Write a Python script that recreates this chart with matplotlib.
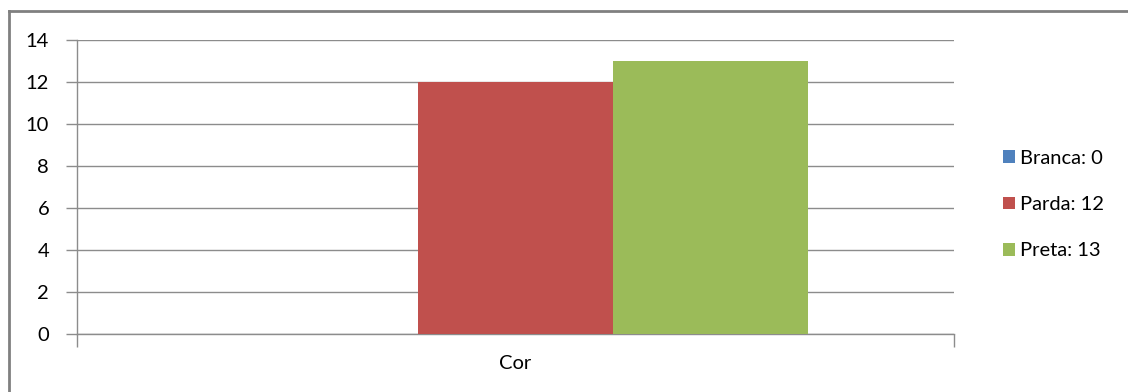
import matplotlib.pyplot as plt
from matplotlib.lines import Line2D

# data
category = ["Cor"]
series_names = ["Branca", "Parda", "Preta"]
series_values = [0, 12, 13]
series_colors = ["#4F81BD", "#C0504D", "#9BBB59"]

plt.rcParams['font.family'] = ['Lato', 'DejaVu Sans']

fig = plt.figure(figsize=(11.28, 3.92), dpi=100)
ax = fig.add_axes([77 / 1128, 58 / 392, 877 / 1128, 294 / 392])

# three bars grouped around the single category
width = 0.222
offsets = [-width, 0, width]
for name, val, col, off in zip(series_names, series_values, series_colors, offsets):
    ax.bar(off, val, width=width, color=col, label=f"{name}: {val}", zorder=3)

ax.set_xlim(-0.5, 0.5)
ax.set_ylim(0, 14)
ax.set_yticks(range(0, 15, 2))
ax.yaxis.grid(True, color="#8c8c8c", linewidth=1, zorder=0)

# category boundary ticks only, label in the middle
ax.set_xticks([-0.5, 0.5])
ax.set_xticklabels([])
ax.set_xticks([0], minor=True)
ax.set_xticklabels(category, minor=True)
ax.tick_params(axis="x", which="minor", length=0, labelsize=14.5, pad=15)
ax.tick_params(axis="x", which="major", length=9, color="#8c8c8c", width=1)
ax.tick_params(axis="y", length=8, color="#8c8c8c", width=1, labelsize=14.5, pad=12)

for s in ["top", "right"]:
    ax.spines[s].set_visible(False)
for s in ["left", "bottom"]:
    ax.spines[s].set_color("#8c8c8c")
    ax.spines[s].set_linewidth(1)

leg = ax.legend(loc="center left", bbox_to_anchor=(1.035, 0.44), frameon=False,
                fontsize=14.5, handlelength=0.6, handleheight=0.6,
                handletextpad=0.25, labelspacing=1.45)

# outer chart frame (top and left visible)
fig.add_artist(Line2D([9 / 1128, 1.0], [1 - 11 / 392, 1 - 11 / 392],
                      color="#808080", linewidth=2, transform=fig.transFigure))
fig.add_artist(Line2D([9 / 1128, 9 / 1128], [0, 1 - 11 / 392],
                      color="#808080", linewidth=2, transform=fig.transFigure))

fig.savefig("out.png", dpi=100)
